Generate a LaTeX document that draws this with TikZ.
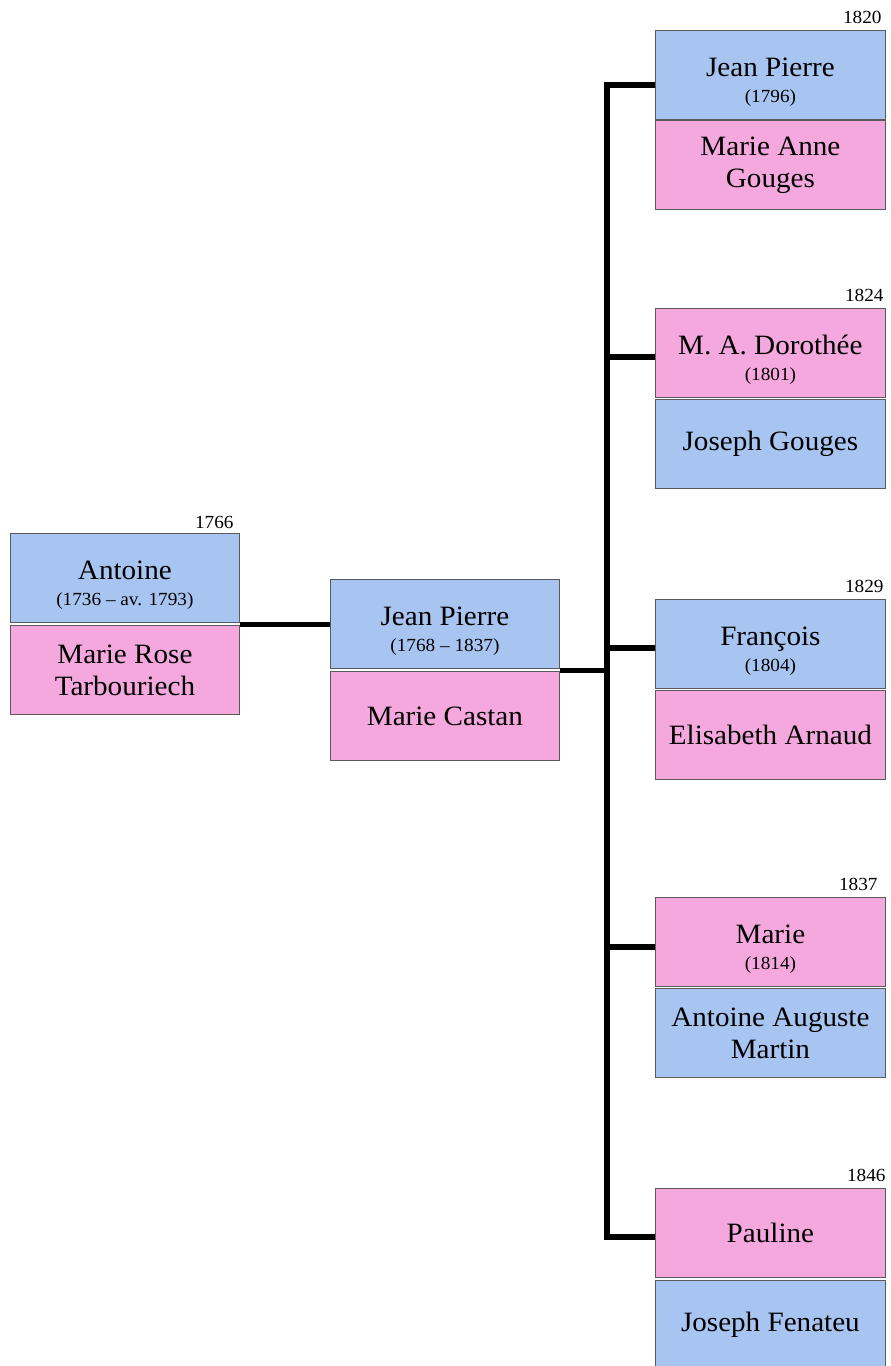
\documentclass[tikz,border=0pt]{standalone}
\usepackage{fontspec}
\setmainfont{Liberation Serif}[FakeStretch=1.04]
\definecolor{maleblue}{RGB}{168,196,240}
\definecolor{femalepink}{RGB}{244,168,222}
\definecolor{boxline}{RGB}{90,90,90}
\newcommand{\namesz}{\fontsize{28}{32}\selectfont}
\newcommand{\datesz}{\fontsize{18.5}{23}\selectfont}
\newcommand{\tstrut}{\rule{0pt}{33pt}}
\tikzset{
  person/.style={draw=boxline, line width=0.8pt, minimum width=229pt, minimum height=89pt,
    inner sep=0pt, align=center, anchor=north west, font=\namesz},
  male/.style={person, fill=maleblue},
  female/.style={person, fill=femalepink},
  wide/.style={minimum width=230pt},
  yearlbl/.style={anchor=base east, inner sep=0pt, font=\datesz},
  link/.style={line width=5.5pt, line join=miter, line cap=butt}
}
\begin{document}
\begin{tikzpicture}[x=1pt,y=-1pt]
\useasboundingbox (0,0) rectangle (891,1366);
% generation 1
\node[male] (ant) at (10,533) {\tstrut Antoine\\[-6pt]{\datesz (1736 – av. 1793)}};
\node[female] (mrt) at (10,625) {Marie Rose\\Tarbouriech};
\node[yearlbl] (y1766) at ([xshift=-6pt,yshift=5pt]ant.north east) {1766};
% generation 2
\node[male] (jp) at (330,579) {\tstrut Jean Pierre\\[-6pt]{\datesz (1768 – 1837)}};
\node[female] (mc) at (330,671) {Marie Castan};
% children
\node[male,wide] (c1) at (655,30) {\tstrut Jean Pierre\\[-6pt]{\datesz (1796)}};
\node[female,wide] (s1) at (655,120) {Marie Anne\\Gouges};
\node[yearlbl] (y1820) at ([xshift=-4pt,yshift=7pt]c1.north east) {1820};
\node[female,wide] (c2) at (655,308) {\tstrut M. A. Dorothée\\[-6pt]{\datesz (1801)}};
\node[male,wide] (s2) at (655,399) {Joseph Gouges};
\node[yearlbl] (y1824) at ([xshift=-2pt,yshift=7pt]c2.north east) {1824};
\node[male,wide] (c3) at (655,599) {\tstrut François\\[-6pt]{\datesz (1804)}};
\node[female,wide] (s3) at (655,690) {Elisabeth Arnaud};
\node[yearlbl] (y1829) at ([xshift=-2pt,yshift=7pt]c3.north east) {1829};
\node[female,wide] (c4) at (655,897) {\tstrut Marie\\[-6pt]{\datesz (1814)}};
\node[male,wide] (s4) at (655,988) {Antoine Auguste\\Martin};
\node[yearlbl] (y1837) at ([xshift=-8pt,yshift=7pt]c4.north east) {1837};
\node[female,wide] (c5) at (655,1188) {Pauline};
\node[male,wide] (s5) at (655,1280) {Joseph Fenateu};
\node[yearlbl] (y1846) at ([xshift=0pt,yshift=7pt]c5.north east) {1846};
% connectors
\coordinate (k1) at (607,85);
\coordinate (k2) at (607,357);
\coordinate (k3) at (607,648);
\coordinate (k4) at (607,947);
\coordinate (k5) at (607,1237);
\path ([yshift=-1.5pt]ant.south east) coordinate (m1);
\path ([yshift=-1.5pt]jp.south east) coordinate (m2);
\draw[link] (m1) -- (m1 -| jp.west);
\draw[link] (m2) -- (m2 -| k1);
\draw[link] (k1 -| c1.west) -- (k1) -- (k5) -- (k5 -| c5.west);
\draw[link] (k2) -- (k2 -| c2.west);
\draw[link] (k3) -- (k3 -| c3.west);
\draw[link] (k4) -- (k4 -| c4.west);
\end{tikzpicture}
\end{document}
